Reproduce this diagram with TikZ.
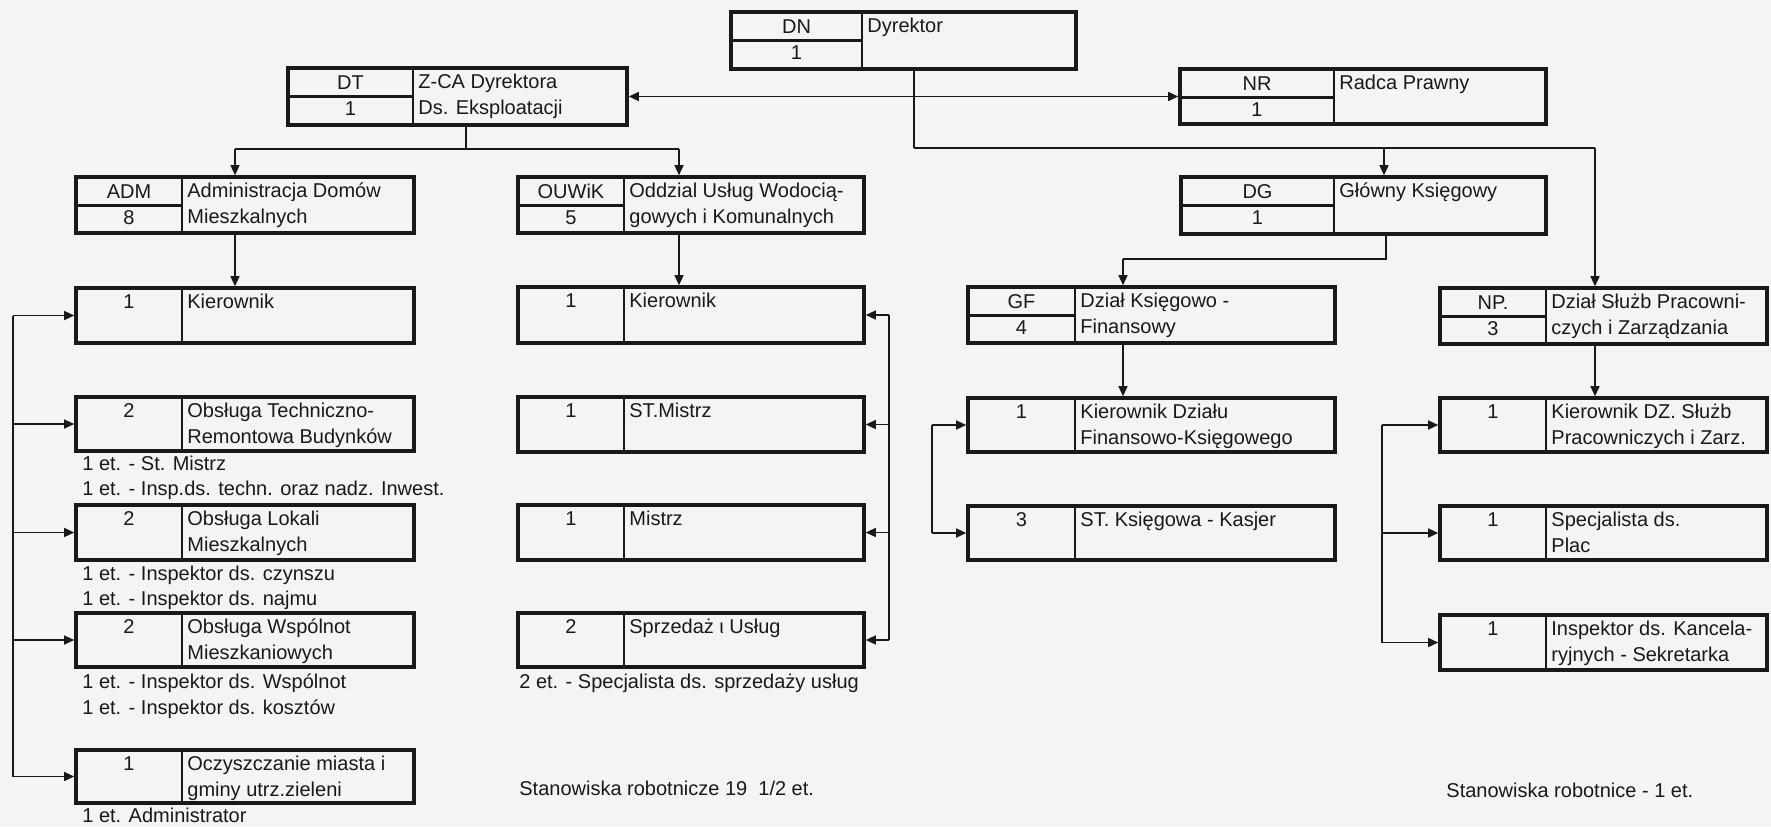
\documentclass[tikz,border=0pt]{standalone}
\usepackage{fontspec}
\setmainfont{Liberation Sans}
\usetikzlibrary{arrows.meta,fit,calc}
\definecolor{paper}{RGB}{244,244,242}
\definecolor{ink}{RGB}{25,25,25}
\tikzset{
  obox/.style={draw=ink, line width=1.8pt, inner sep=0pt, rectangle},
  divline/.style={draw=ink, line width=1.4pt},
  conn/.style={draw=ink, line width=0.7pt},
  arr/.style={conn, -{Triangle[length=5pt,width=4.5pt]}},
  txt/.style={text=ink, font=\fontsize{10}{12}\selectfont, inner sep=0pt},
}
% name x1 y1 x2 y2 div
\newcommand\mkbox[6]{%
  \node[obox, fit={(#2,#3) (#4,#5)}] (#1) {};
  \draw[divline] (#6,#3) -- (#6,#5);
}
% header cells: name x1 y1 div code num
\newcommand\hdr[6]{%
  \draw[divline] (#2,{#3+28.5}) -- (#4,{#3+28.5});
  \node[txt, anchor=base] (#1-c) at ({(#2+#4)/2},{#3+21}) {#5};
  \node[txt, anchor=base] (#1-n) at ({(#2+#4)/2},{#3+47.5}) {#6};
}
% position number: name x1 y1 div num
\newcommand\num[5]{%
  \node[txt, anchor=base] (#1-n) at ({(#2+#4)/2},{#3+20.5}) {#5};
}
% text lines: name div y1 text
\newcommand\lineA[4]{%
  \node[txt, anchor=base west] (#1-t1) at ({#2+5},{#3+20.5}) {#4};
}
\newcommand\lineB[4]{%
  \node[txt, anchor=base west] (#1-t2) at ({#2+5},{#3+46.5}) {#4};
}
\begin{document}
\begin{tikzpicture}[x=0.5pt,y=-0.5pt]
\fill[paper] (0,0) rectangle (1771,826);
\useasboundingbox (0,0) rectangle (1771,826);

% ---- header boxes
\mkbox{DN}{731}{12}{1076}{69}{862}
\hdr{DN}{731}{12}{862}{DN}{1}
\lineA{DN}{862}{12}{Dyrektor}

\mkbox{DT}{288}{68}{627}{125}{413}
\hdr{DT}{288}{68}{413}{DT}{1}
\lineA{DT}{413}{68}{Z-CA Dyrektora}
\lineB{DT}{413}{68}{Ds. Eksploatacji}

\mkbox{NR}{1180}{69}{1546}{124}{1334}
\hdr{NR}{1180}{69}{1334}{NR}{1}
\lineA{NR}{1334}{69}{Radca Prawny}

\mkbox{ADM}{76}{177}{414}{233}{182}
\hdr{ADM}{76}{177}{182}{ADM}{8}
\lineA{ADM}{182}{177}{Administracja Domów}
\lineB{ADM}{182}{177}{Mieszkalnych}

\mkbox{OUW}{518}{177}{864}{233}{624}
\hdr{OUW}{518}{177}{624}{OUWiK}{5}
\lineA{OUW}{624}{177}{Oddzial Usług Wodocią-}
\lineB{OUW}{624}{177}{gowych i Komunalnych}

\mkbox{DG}{1181}{177}{1546}{234}{1334}
\hdr{DG}{1181}{177}{1334}{DG}{1}
\lineA{DG}{1334}{177}{Główny Księgowy}

\mkbox{GF}{968}{287}{1335}{343}{1075}
\hdr{GF}{968}{287}{1075}{GF}{4}
\lineA{GF}{1075}{287}{Dział Księgowo -}
\lineB{GF}{1075}{287}{Finansowy}

\mkbox{NP}{1440}{288}{1767}{344}{1546}
\hdr{NP}{1440}{288}{1546}{NP.}{3}
\lineA{NP}{1546}{288}{Dział Służb Pracowni-}
\lineB{NP}{1546}{288}{czych i Zarządzania}

% ---- column A
\mkbox{A3}{76}{288}{414}{343}{182}
\num{A3}{76}{288}{182}{1}
\lineA{A3}{182}{288}{Kierownik}

\mkbox{A4}{76}{397}{414}{451}{182}
\num{A4}{76}{397}{182}{2}
\lineA{A4}{182}{397}{Obsługa Techniczno-}
\lineB{A4}{182}{397}{Remontowa Budynków}

\mkbox{A5}{76}{505}{414}{560}{182}
\num{A5}{76}{505}{182}{2}
\lineA{A5}{182}{505}{Obsługa Lokali}
\lineB{A5}{182}{505}{Mieszkalnych}

\mkbox{A6}{76}{613}{414}{667}{182}
\num{A6}{76}{613}{182}{2}
\lineA{A6}{182}{613}{Obsługa Wspólnot}
\lineB{A6}{182}{613}{Mieszkaniowych}

\mkbox{A7}{76}{750}{414}{803}{182}
\num{A7}{76}{750}{182}{1}
\lineA{A7}{182}{750}{Oczyszczanie miasta i}
\lineB{A7}{182}{750}{gminy utrz.zieleni}

% ---- column B
\mkbox{B3}{518}{287}{864}{343}{624}
\num{B3}{518}{287}{624}{1}
\lineA{B3}{624}{287}{Kierownik}

\mkbox{B4}{518}{397}{864}{452}{624}
\num{B4}{518}{397}{624}{1}
\lineA{B4}{624}{397}{ST.Mistrz}

\mkbox{B5}{518}{505}{864}{560}{624}
\num{B5}{518}{505}{624}{1}
\lineA{B5}{624}{505}{Mistrz}

\mkbox{B6}{518}{613}{864}{667}{624}
\num{B6}{518}{613}{624}{2}
\lineA{B6}{624}{613}{Sprzedaż ι Usług}

% ---- column C
\mkbox{C4}{968}{398}{1335}{452}{1075}
\num{C4}{968}{398}{1075}{1}
\lineA{C4}{1075}{398}{Kierownik Działu}
\lineB{C4}{1075}{398}{Finansowo-Księgowego}

\mkbox{C5}{968}{506}{1335}{560}{1075}
\num{C5}{968}{506}{1075}{3}
\lineA{C5}{1075}{506}{ST. Księgowa - Kasjer}

% ---- column D
\mkbox{D4}{1440}{398}{1767}{452}{1546}
\num{D4}{1440}{398}{1546}{1}
\lineA{D4}{1546}{398}{Kierownik DZ. Służb}
\lineB{D4}{1546}{398}{Pracowniczych i Zarz.}

\mkbox{D5}{1440}{506}{1767}{560}{1546}
\num{D5}{1440}{506}{1546}{1}
\lineA{D5}{1546}{506}{Specjalista ds.}
\lineB{D5}{1546}{506}{Plac}

\mkbox{D6}{1440}{615}{1767}{670}{1546}
\num{D6}{1440}{615}{1546}{1}
\lineA{D6}{1546}{615}{Inspektor ds. Kancela-}
\lineB{D6}{1546}{615}{ryjnych - Sekretarka}

% ---- notes
\node[txt, anchor=base west] (nA4a) at (82,470) {1 et. - St. Mistrz};
\node[txt, anchor=base west] (nA4b) at (82,495) {1 et. - Insp.ds. techn. oraz nadz. Inwest.};
\node[txt, anchor=base west] (nA5a) at (82,580) {1 et. - Inspektor ds. czynszu};
\node[txt, anchor=base west] (nA5b) at (82,605) {1 et. - Inspektor ds. najmu};
\node[txt, anchor=base west] (nA6a) at (82,688) {1 et. - Inspektor ds. Wspólnot};
\node[txt, anchor=base west] (nA6b) at (82,714) {1 et. - Inspektor ds. kosztów};
\node[txt, anchor=base west] (nA7) at (82,822) {1 et. Administrator};
\node[txt, anchor=base west] (nB6) at (519,688) {2 et. - Specjalista ds. sprzedaży usług};
\node[txt, anchor=base west] (sB) at (519,795) {Stanowiska robotnicze 19\ \ 1/2 et.};
\node[txt, anchor=base west] (sD) at (1446,797) {Stanowiska robotnice - 1 et.};

% ---- connectors from DN
\coordinate (dnj) at (914,96.5);
\coordinate (dnb) at (914,148);
\coordinate (j1) at (1384,148);
\coordinate (j2) at (1595,148);
\draw[conn] (dnb |- DN.south) -- (dnb);
\draw[arr] (dnj) -- (DT.east);
\draw[arr] (dnj) -- (NR.west);
\draw[conn] (dnb) -- (j2);
\draw[arr] (j1) -- (j1 |- DG.north);
\draw[arr] (j2) -- (j2 |- NP.north);
\draw[arr] (j2 |- NP.south) -- (j2 |- D4.north);

% ---- DT branch
\coordinate (dtb) at (466,149);
\coordinate (ja) at (235,149);
\coordinate (jb) at (679,149);
\draw[conn] (dtb |- DT.south) -- (dtb);
\draw[conn] (ja) -- (jb);
\draw[arr] (ja) -- (ja |- ADM.north);
\draw[arr] (jb) -- (jb |- OUW.north);
\draw[arr] (ja |- ADM.south) -- (ja |- A3.north);
\draw[arr] (jb |- OUW.south) -- (jb |- B3.north);

% ---- DG branch
\coordinate (jg) at (1386,259);
\coordinate (jf) at (1123,259);
\draw[conn] (jg |- DG.south) -- (jg) -- (jf);
\draw[arr] (jf) -- (jf |- GF.north);
\draw[arr] (jf |- GF.south) -- (jf |- C4.north);

% ---- column side connectors
\coordinate (la) at (13,0);
\draw[conn] (la |- A3.west) -- (la |- A7.west);
\foreach \b in {A3,A4,A5,A6,A7} \draw[arr] (la |- \b.west) -- (\b.west);

\coordinate (rb) at (889,0);
\draw[conn] (rb |- B3.east) -- (rb |- B6.east);
\foreach \b in {B3,B4,B5,B6} \draw[arr] (rb |- \b.east) -- (\b.east);

\coordinate (lc) at (932,0);
\draw[conn] (lc |- C4.west) -- (lc |- C5.west);
\foreach \b in {C4,C5} \draw[arr] (lc |- \b.west) -- (\b.west);

\coordinate (ld) at (1382,0);
\draw[conn] (ld |- D4.west) -- (ld |- D6.west);
\foreach \b in {D4,D5,D6} \draw[arr] (ld |- \b.west) -- (\b.west);
\end{tikzpicture}
\end{document}
